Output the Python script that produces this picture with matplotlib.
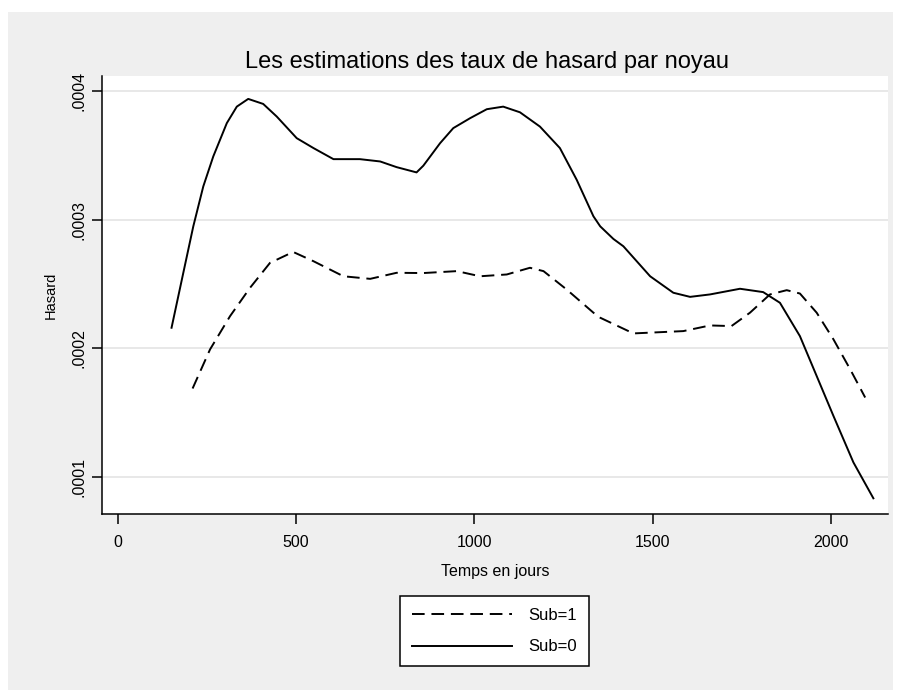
import matplotlib
matplotlib.use("Agg")
import matplotlib.pyplot as plt
from matplotlib.patches import Rectangle

# Sub=0 (solid)
t0 = [151, 184, 212, 240, 268, 306, 334, 366, 408, 446, 502, 549, 605, 679, 736, 782,
      838, 857, 904, 941, 988, 1035, 1081, 1128, 1184, 1240, 1287, 1334, 1353, 1390,
      1418, 1493, 1558, 1605, 1661, 1745, 1810, 1857, 1913, 1960, 2007, 2063, 2119]
h0 = [2.160, 2.587, 2.948, 3.258, 3.491, 3.750, 3.878, 3.938, 3.899, 3.801, 3.633, 3.556,
      3.470, 3.470, 3.452, 3.408, 3.367, 3.419, 3.594, 3.711, 3.788, 3.858, 3.878, 3.834,
      3.723, 3.556, 3.310, 3.026, 2.948, 2.850, 2.793, 2.560, 2.432, 2.400, 2.419,
      2.463, 2.437, 2.354, 2.095, 1.785, 1.475, 1.114, 0.835]

# Sub=1 (dashed)
t1 = [210, 259, 315, 371, 427, 492, 549, 633, 708, 782, 857, 951, 1016, 1091, 1156,
      1194, 1259, 1334, 1353, 1446, 1586, 1661, 1721, 1773, 1829, 1876, 1913, 1960,
      2007, 2054, 2096]
h1 = [1.688, 1.992, 2.250, 2.470, 2.664, 2.749, 2.677, 2.560, 2.540, 2.587, 2.585,
      2.600, 2.560, 2.574, 2.626, 2.600, 2.457, 2.277, 2.238, 2.116, 2.134, 2.178,
      2.173, 2.277, 2.419, 2.452, 2.426, 2.277, 2.070, 1.837, 1.618]

xticks = [0, 500, 1000, 1500, 2000]
yticks = [0.0001, 0.0002, 0.0003, 0.0004]
ytick_labels = [".0001", ".0002", ".0003", ".0004"]
title = "Les estimations des taux de hasard par noyau"
xlabel = "Temps en jours"
ylabel = "Hasard"
labels = ["Sub=1", "Sub=0"]

plt.rcParams['font.family'] = ['Liberation Sans', 'DejaVu Sans']

W, H = 901, 698
fig = plt.figure(figsize=(W / 100, H / 100), dpi=100, facecolor='white')
bg = Rectangle((8 / W, 1 - 690 / H), (893 - 8) / W, (690 - 12) / H,
               transform=fig.transFigure, facecolor='#efefef',
               edgecolor='none', zorder=-10)
fig.patches.append(bg)

ax = fig.add_axes([102 / W, 1 - 514 / H, (888 - 102) / W, (514 - 76) / H])
ax.set_zorder(1)
ax.set_facecolor('white')

y0 = [v * 1e-4 for v in h0]
y1 = [v * 1e-4 for v in h1]
l1, = ax.plot(t1, y1, color='black', lw=1.4, linestyle=(0, (6.5, 3.5)))
l0, = ax.plot(t0, y0, color='black', lw=1.4)

ax.set_xlim(-44, 2160)
ax.set_ylim(0.0000713, 0.0004116)
ax.set_xticks(xticks)
ax.set_xticklabels([str(v) for v in xticks])
ax.set_yticks(yticks)
ax.set_yticklabels(ytick_labels, rotation=90, va='center')
ax.grid(axis='y', color='#e6e6e6', lw=1.3)
ax.set_axisbelow(True)

for s in ['top', 'right']:
    ax.spines[s].set_visible(False)
for s in ['left', 'bottom']:
    ax.spines[s].set_color('black')
    ax.spines[s].set_linewidth(1.1)

ax.tick_params(axis='x', direction='out', length=7, width=1.1, labelsize=11.5, pad=8)
ax.tick_params(axis='y', direction='out', length=7, width=1.1, labelsize=11.5, pad=4)

ax.set_ylabel(ylabel, fontsize=10.5, labelpad=10)
ax.set_xlabel(xlabel, fontsize=11.5, labelpad=10)

fig.text(487 / W, 1 - 62 / H, title, ha='center', va='center', fontsize=17)

leg = fig.legend([l1, l0], labels, loc='center', bbox_to_anchor=(494.5 / W, 1 - 631 / H),
                 frameon=True, fancybox=False, edgecolor='black', facecolor='white',
                 fontsize=12, handlelength=6.0, handletextpad=1.0, labelspacing=1.0,
                 borderpad=0.7, borderaxespad=0)
leg.get_frame().set_linewidth(1.1)
leg.get_frame().set_alpha(1)

fig.savefig('out.png', dpi=100, facecolor=fig.get_facecolor())
